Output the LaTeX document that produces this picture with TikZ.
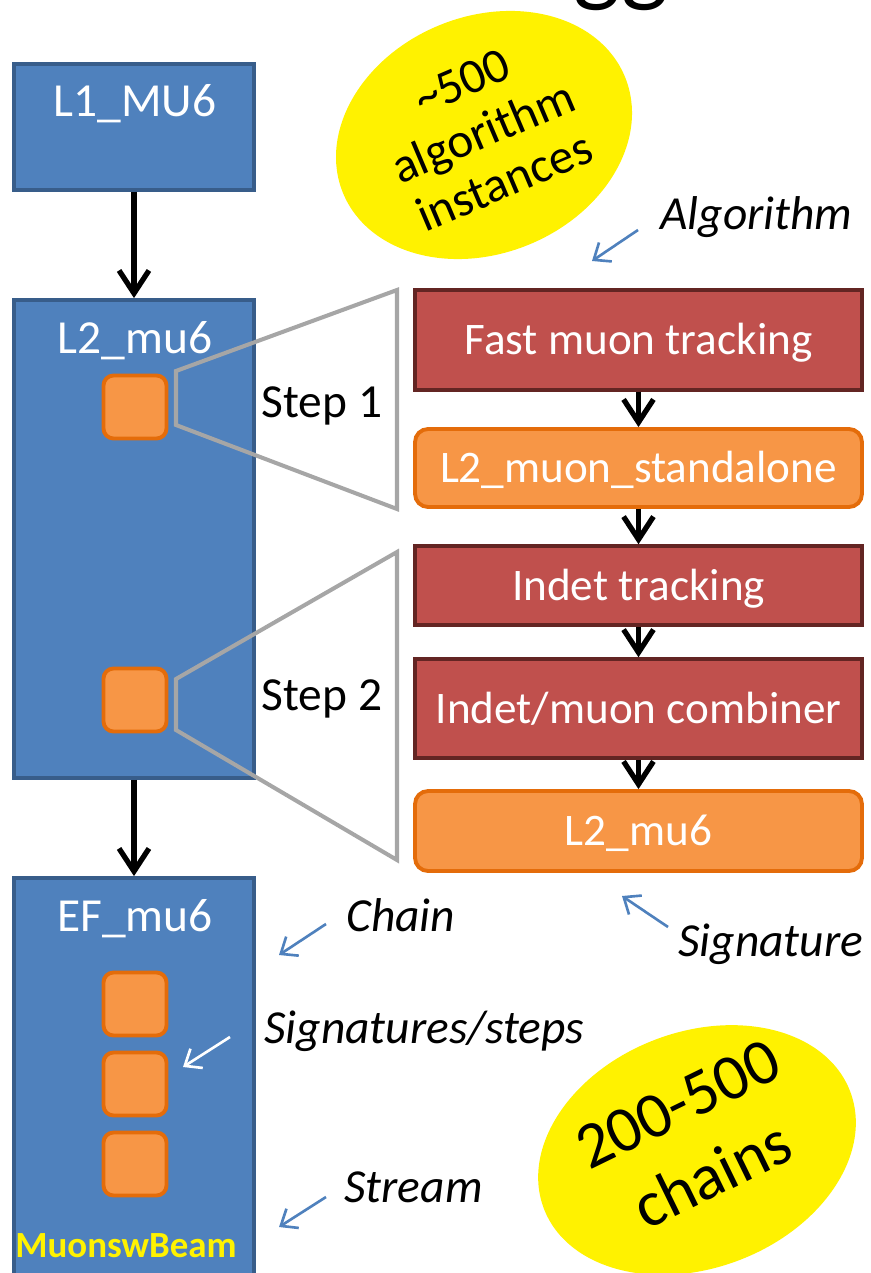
\documentclass[tikz,border=0pt]{standalone}
\usepackage{fontspec}
\setmainfont{Carlito}
\usetikzlibrary{arrows.meta,shapes.geometric}

\definecolor{chainblue}{HTML}{4F81BD}
\definecolor{chainedge}{HTML}{385D8A}
\definecolor{algred}{HTML}{C0504D}
\definecolor{algedge}{HTML}{632523}
\definecolor{sigorange}{HTML}{F79646}
\definecolor{sigedge}{HTML}{E46C0A}
\definecolor{trapgray}{HTML}{A6A6A6}

\begin{document}
\begin{tikzpicture}[x=0.02cm, y=-0.02cm,
    chainbox/.style={draw=chainedge, line width=2.2pt, fill=chainblue, minimum width=4.8cm},
    algbox/.style={draw=algedge, line width=2pt, fill=algred, minimum width=8.94cm, inner sep=0pt,
        text=white, font=\fontsize{25.7}{30}\selectfont, text height=20.6pt, text depth=3.6pt},
    sigbox/.style={draw=sigedge, line width=2.2pt, fill=sigorange, rounded corners=0.26cm, minimum width=8.94cm, inner sep=0pt,
        text=white, font=\fontsize{25.7}{30}\selectfont, text height=20.6pt, text depth=3.6pt},
    sigsq/.style={draw=sigedge, line width=2.2pt, fill=sigorange, rounded corners=0.2cm, minimum width=1.26cm, minimum height=1.26cm, inner sep=0pt},
    boxlbl/.style={anchor=base, inner sep=0pt, text=white, font=\fontsize{27}{32}\selectfont},
    note/.style={anchor=base west, inner sep=0pt, font=\fontsize{27}{32}\selectfont\itshape},
    flow/.style={-{Straight Barb[length=13pt,width=17pt]}, line width=3pt},
    pointer/.style={-{Straight Barb[length=8pt,width=13pt]}, line width=1.5pt, draw=chainblue},
    zoomlines/.style={draw=trapgray, line width=2.3pt, line join=miter}]

    \useasboundingbox (0,0) rectangle (870,1273);

    % Title (cut off at the top)
    \node (title) [anchor=base west, inner sep=0pt, font=\fontsize{57}{60}\selectfont] at (573,-6) {gg};

    % Chains
    \node[chainbox, minimum height=2.52cm] (l1) at (134,127) {};
    \node[chainbox, minimum height=9.56cm] (l2) at (134,539) {};
    \node[chainbox, minimum height=8.4cm] (ef) at (134,1088) {};

    \node[boxlbl] (l1txt) at (135,117) {L1\_MU6};
    \node[boxlbl] (l2txt) at (135,354) {L2\_mu6};
    \node[boxlbl] (eftxt) at (135,931) {EF\_mu6};

    \draw[flow] (l1) -- (l2);
    \draw[flow] (l2) -- (ef);

    % Signatures inside the chains
    \node[sigsq] (l2s1) at (135,407) {};
    \node[sigsq] (l2s2) at (135,700) {};
    \node[sigsq] (efs1) at (135,1004) {};
    \node[sigsq] (efs2) at (135,1084) {};
    \node[sigsq] (efs3) at (135,1164) {};

    % Stream name
    \node (stream) [anchor=base west, inner sep=0pt, text=yellow, font=\fontsize{21}{25}\selectfont\bfseries] at (15,1257) {MuonswBeam};

    % Zoom from the steps to the algorithms
    \draw[zoomlines] (176,371) -- (397,290) -- (397,509) -- (176,425) -- cycle;
    \draw[zoomlines] (176,679) -- (397,552) -- (397,860) -- (176,730) -- cycle;
    \node[anchor=base, inner sep=0pt, font=\fontsize{27}{32}\selectfont] (step1) at (322,418) {Step 1};
    \node[anchor=base, inner sep=0pt, font=\fontsize{27}{32}\selectfont] (step2) at (322,710) {Step 2};

    % Step 1 algorithms
    \node[algbox, minimum height=2cm] (fast) at (638.5,340) {Fast muon tracking};
    \node[sigbox, minimum height=1.56cm] (standalone) at (638.5,468) {L2\_muon\_standalone};

    % Step 2 algorithms
    \node[algbox, minimum height=1.58cm] (indet) at (638.5,585.5) {Indet tracking};
    \node[algbox, minimum height=1.98cm] (comb) at (638.5,708.5) {Indet/muon combiner};
    \node[sigbox, minimum height=1.6cm] (l2sig) at (638.5,831) {L2\_mu6};

    \draw[flow] (fast) -- (standalone);
    \draw[flow] (standalone) -- (indet);
    \draw[flow] (indet) -- (comb);
    \draw[flow] (comb) -- (l2sig);

    % Counts
    \node (algcount) [ellipse, fill=yellow, rotate=22.5, minimum width=6.1cm, minimum height=4.74cm, inner sep=0pt] at (484,135) {};
    \node (algcounttxt) [rotate=23, align=center, inner sep=0pt, font=\fontsize{28}{31}\selectfont] at (483,132) {\textasciitilde500\\algorithm\\instances};
    \node (chaincount) [ellipse, fill=yellow, rotate=21, minimum width=6.56cm, minimum height=4.72cm, inner sep=0pt] at (697,1150) {};
    \node (chaincounttxt) [rotate=26, align=center, inner sep=0pt, font=\fontsize{37}{45}\selectfont] at (695,1140) {200-500\\chains};

    % Annotations
    \node[note] (algnote) at (660,230) {Algorithm};
    \node[note] (signote) at (678,956) {Signature};
    \node[note] (chainnote) at (346,931) {Chain};
    \node[note] (stepnote) at (264,1043) {Signatures/steps};
    \node[note] (streamnote) at (344,1202) {Stream};

    \coordinate (algfrom) at (638,230);
    \coordinate (algto) at (592,261);
    \coordinate (sigfrom) at (668,927);
    \coordinate (sigto) at (622,896);
    \coordinate (chainfrom) at (326,924);
    \coordinate (chainto) at (279,955);
    \coordinate (stepfrom) at (230,1037);
    \coordinate (stepto) at (183,1067);
    \coordinate (streamfrom) at (326,1197);
    \coordinate (streamto) at (279,1227);

    \draw[pointer] (algfrom) -- (algto);
    \draw[pointer] (sigfrom) -- (sigto);
    \draw[pointer] (chainfrom) -- (chainto);
    \draw[pointer, draw=white] (stepfrom) -- (stepto);
    \draw[pointer] (streamfrom) -- (streamto);

\end{tikzpicture}
\end{document}
